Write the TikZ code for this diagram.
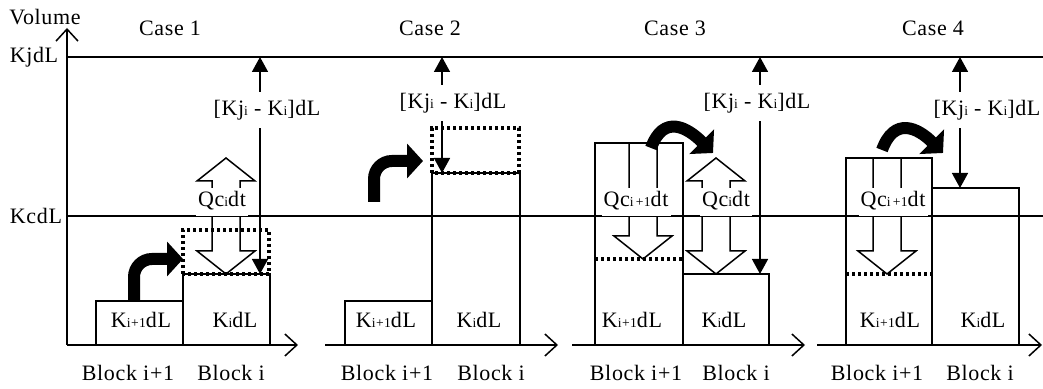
\documentclass[tikz,border=0pt]{standalone}
\usepackage{fontspec}
\setmainfont{Liberation Serif}[LetterSpace=3]
\usetikzlibrary{arrows.meta}
\newcommand{\sbx}[1]{{\fontsize{6.8}{7}\selectfont #1}}
\newcommand{\hollowdown}[3]{%
  \draw[hollow] ({#1-14},#2) -- ({#1-14},{#3+23}) -- ({#1-29},{#3+23}) -- (#1,#3)
    -- ({#1+29},{#3+23}) -- ({#1+14},{#3+23}) -- ({#1+14},#2);}
\newcommand{\hollowboth}[3]{%
  \draw[hollow] (#1,#2) -- ({#1+29},{#2+23}) -- ({#1+14},{#2+23}) -- ({#1+14},{#3-23})
    -- ({#1+29},{#3-23}) -- (#1,#3) -- ({#1-29},{#3-23}) -- ({#1-14},{#3-23})
    -- ({#1-14},{#2+23}) -- ({#1-29},{#2+23}) -- cycle;}

\begin{document}
\begin{tikzpicture}[x=0.5pt, y=0.5pt, line width=0.75pt,
    every node/.style={inner sep=0pt, font=\fontsize{11}{12}\selectfont},
    axis/.style={-{Straight Barb[length=6pt,width=11pt]}},
    gaparrow/.style={{Triangle[length=7.5pt,width=8pt]}-{Triangle[length=7.5pt,width=8pt]}},
    groundline/.style={line width=1.4pt},
    dotline/.style={line width=1.8pt, dash pattern=on 1.6pt off 1.4pt},
    hollow/.style={line width=0.75pt, line join=miter},
    bigarrow/.style={line width=6pt, -{Triangle[length=8pt,width=17pt]}},
    gaplbl/.style={fill=white, inner xsep=1pt, inner ysep=4pt},
    qlbl/.style={fill=white, inner xsep=1pt, inner ysep=2pt, text height=7.5pt, text depth=2.5pt}]
  \useasboundingbox (0,0) rectangle (1043,389);
  \draw (67,332) -- (1043,332);
  \draw (67,173) -- (1043,173);
  \draw[axis] (67,44) -- (67,361);
  \draw[axis] (67,44) -- (298,44);
  \draw[axis] (325,44) -- (558,44);
  \draw[axis] (572,44) -- (805,44);
  \draw[axis] (817,44) -- (1042,44);

  \node (volume) at (45,372) {Volume};
  \node (kjdl) at (34,332) {KjdL};
  \node (kcdl) at (36,173) {KcdL};
  \node (case1) at (170,361) {Case 1};
  \node (case2) at (430,361) {Case 2};
  \node (case3) at (675,361) {Case 3};
  \node (case4) at (933,361) {Case 4};

  % blocks
  \draw (96,44) rectangle (183,88);
  \draw (183,44) rectangle (270,115);
  \draw (345,44) rectangle (432,88);
  \draw (432,44) rectangle (520,216);
  \draw (595,44) rectangle (683,246);
  \draw (683,44) rectangle (769,115);
  \draw (846,44) rectangle (932,231);
  \draw (932,44) rectangle (1019,201);
  \draw[groundline] (96,44) -- (270,44);
  \draw[groundline] (345,44) -- (520,44);
  \draw[groundline] (595,44) -- (769,44);
  \draw[groundline] (846,44) -- (1019,44);
  \draw[dotline] (183,115) rectangle (269,159);
  \draw[dotline] (432,216) rectangle (519,261);
  \draw[dotline] (595,130) -- (683,130);
  \draw[dotline] (846,115) -- (932,115);

  \node (k1a) at (141,69) {K\sbx{i+1}dL};
  \node (k1b) at (235,69) {K\sbx{i}dL};
  \node (k2a) at (386,69) {K\sbx{i+1}dL};
  \node (k2b) at (479,69) {K\sbx{i}dL};
  \node (k3a) at (632,69) {K\sbx{i+1}dL};
  \node (k3b) at (724,69) {K\sbx{i}dL};
  \node (k4a) at (890,69) {K\sbx{i+1}dL};
  \node (k4b) at (983,69) {K\sbx{i}dL};

  \node (b1a) at (128,16) {Block i+1};
  \node (b1b) at (231,16) {Block i};
  \node (b2a) at (387,16) {Block i+1};
  \node (b2b) at (491,16) {Block i};
  \node (b3a) at (636,16) {Block i+1};
  \node (b3b) at (736,16) {Block i};
  \node (b4a) at (877,16) {Block i+1};
  \node (b4b) at (980,16) {Block i};

  % free volume
  \draw[gaparrow] (260,332) -- (260,115);
  \draw[gaparrow] (442,332) -- (442,216);
  \draw[gaparrow] (760,332) -- (760,115);
  \draw[gaparrow] (960,332) -- (960,201);
  \node[gaplbl] (free1) at (267,279) {[Kj\sbx{i} - K\sbx{i}]dL};
  \node[gaplbl] (free2) at (453,286) {[Kj\sbx{i} - K\sbx{i}]dL};
  \node[gaplbl] (free3) at (757,286) {[Kj\sbx{i} - K\sbx{i}]dL};
  \node[gaplbl] (free4) at (987,279) {[Kj\sbx{i} - K\sbx{i}]dL};

  % capacity
  \hollowboth{226}{115}{231}
  \hollowboth{716}{115}{231}
  \hollowdown{643}{246}{130}
  \hollowdown{887}{231}{115}
  \node[qlbl] (qc1) at (222,187) {Qc\sbx{i}dt};
  \node[qlbl] (qc3b) at (726,187) {Qc\sbx{i}dt};
  \node[qlbl] (qc3a) at (636,187) {Qc\sbx{i\,+1}dt};
  \node[qlbl] (qc4a) at (893,187) {Qc\sbx{i\,+1}dt};

  % flows
  \draw[bigarrow] (134,88) -- (134,112) to[out=90,in=180] (152,130) -- (183,130);
  \draw[bigarrow] (374,187) -- (374,210) to[out=90,in=180] (392,228) -- (423,228);
  \draw[bigarrow] (651,241) to[out=70,in=135,looseness=1.5] (713,236);
  \draw[bigarrow] (882,239) to[out=70,in=135,looseness=1.5] (943,236);
\end{tikzpicture}
\end{document}
